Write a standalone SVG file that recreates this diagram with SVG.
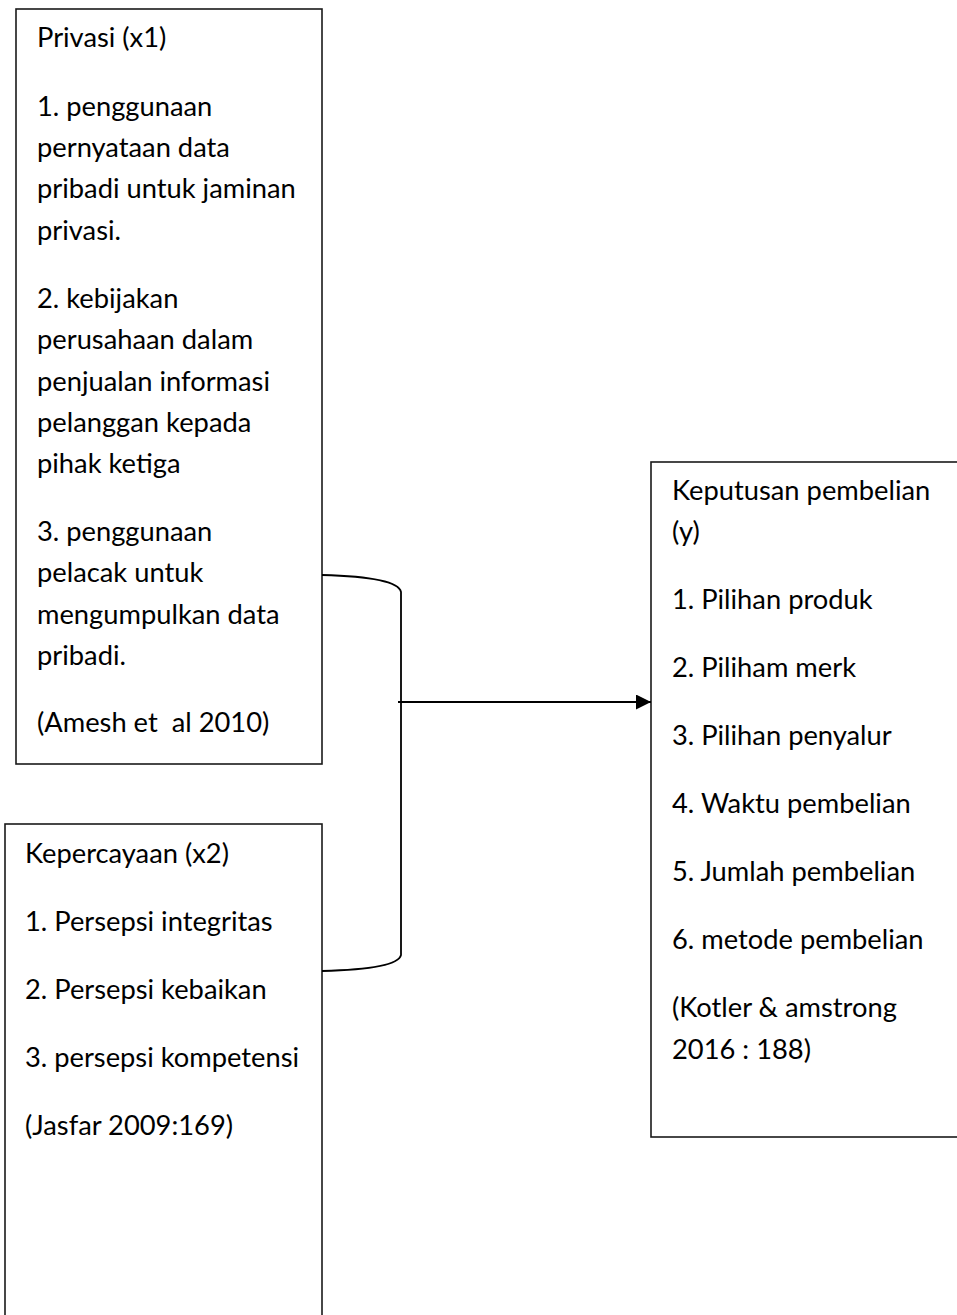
<svg xmlns="http://www.w3.org/2000/svg" width="957" height="1315" viewBox="0 0 957 1315">
<style>
.box{fill:#fff;stroke:#1a1a1a;stroke-width:1.6}
.t{font-family:Lato,"Liberation Sans",sans-serif;font-size:27.3px;fill:#000;white-space:pre}
.con{fill:none;stroke:#000;stroke-width:1.8}
</style>
<defs>
<marker id="ah" markerWidth="15" markerHeight="15" refX="15" refY="7.5" orient="auto" markerUnits="userSpaceOnUse">
<path d="M0,0 L15,7.5 L0,15 Z" fill="#000"/>
</marker>
</defs>
<rect width="957" height="1315" fill="#fff"/>
<g id="privasi">
<rect class="box" x="16" y="9" width="306" height="755"/>
<text class="t" x="37" y="47">Privasi (x1)</text>
<text class="t" x="37" y="116">1. penggunaan</text>
<text class="t" x="37" y="157">pernyataan data</text>
<text class="t" x="37" y="198">pribadi untuk jaminan</text>
<text class="t" x="37" y="240">privasi.</text>
<text class="t" x="37" y="308">2. kebijakan</text>
<text class="t" x="37" y="349">perusahaan dalam</text>
<text class="t" x="37" y="391">penjualan informasi</text>
<text class="t" x="37" y="432">pelanggan kepada</text>
<text class="t" x="37" y="473">pihak ketiga</text>
<text class="t" x="37" y="541">3. penggunaan</text>
<text class="t" x="37" y="582">pelacak untuk</text>
<text class="t" x="37" y="624">mengumpulkan data</text>
<text class="t" x="37" y="665">pribadi.</text>
<text class="t" x="37" y="732" xml:space="preserve">(Amesh et  al 2010)</text>
</g>
<g id="kepercayaan">
<rect class="box" x="5" y="824" width="317" height="520"/>
<text class="t" x="25" y="863">Kepercayaan (x2)</text>
<text class="t" x="25" y="931">1. Persepsi integritas</text>
<text class="t" x="25" y="999">2. Persepsi kebaikan</text>
<text class="t" x="25" y="1067">3. persepsi kompetensi</text>
<text class="t" x="25" y="1135">(Jasfar 2009:169)</text>
</g>
<g id="keputusan">
<rect class="box" x="651" y="462" width="320" height="675"/>
<text class="t" x="672" y="500">Keputusan pembelian</text>
<text class="t" x="672" y="541">(y)</text>
<text class="t" x="672" y="609">1. Pilihan produk</text>
<text class="t" x="672" y="677">2. Piliham merk</text>
<text class="t" x="672" y="745">3. Pilihan penyalur</text>
<text class="t" x="672" y="813">4. Waktu pembelian</text>
<text class="t" x="672" y="881">5. Jumlah pembelian</text>
<text class="t" x="672" y="949">6. metode pembelian</text>
<text class="t" x="672" y="1017">(Kotler &amp; amstrong</text>
<text class="t" x="672" y="1059">2016 : 188)</text>
</g>
<g id="connectors">
<path class="con" d="M322,575 Q398,577 401,592 L401,955 Q398,969 322,971"/>
<path class="con" d="M398,702 L651,702" marker-end="url(#ah)"/>
</g>
</svg>
